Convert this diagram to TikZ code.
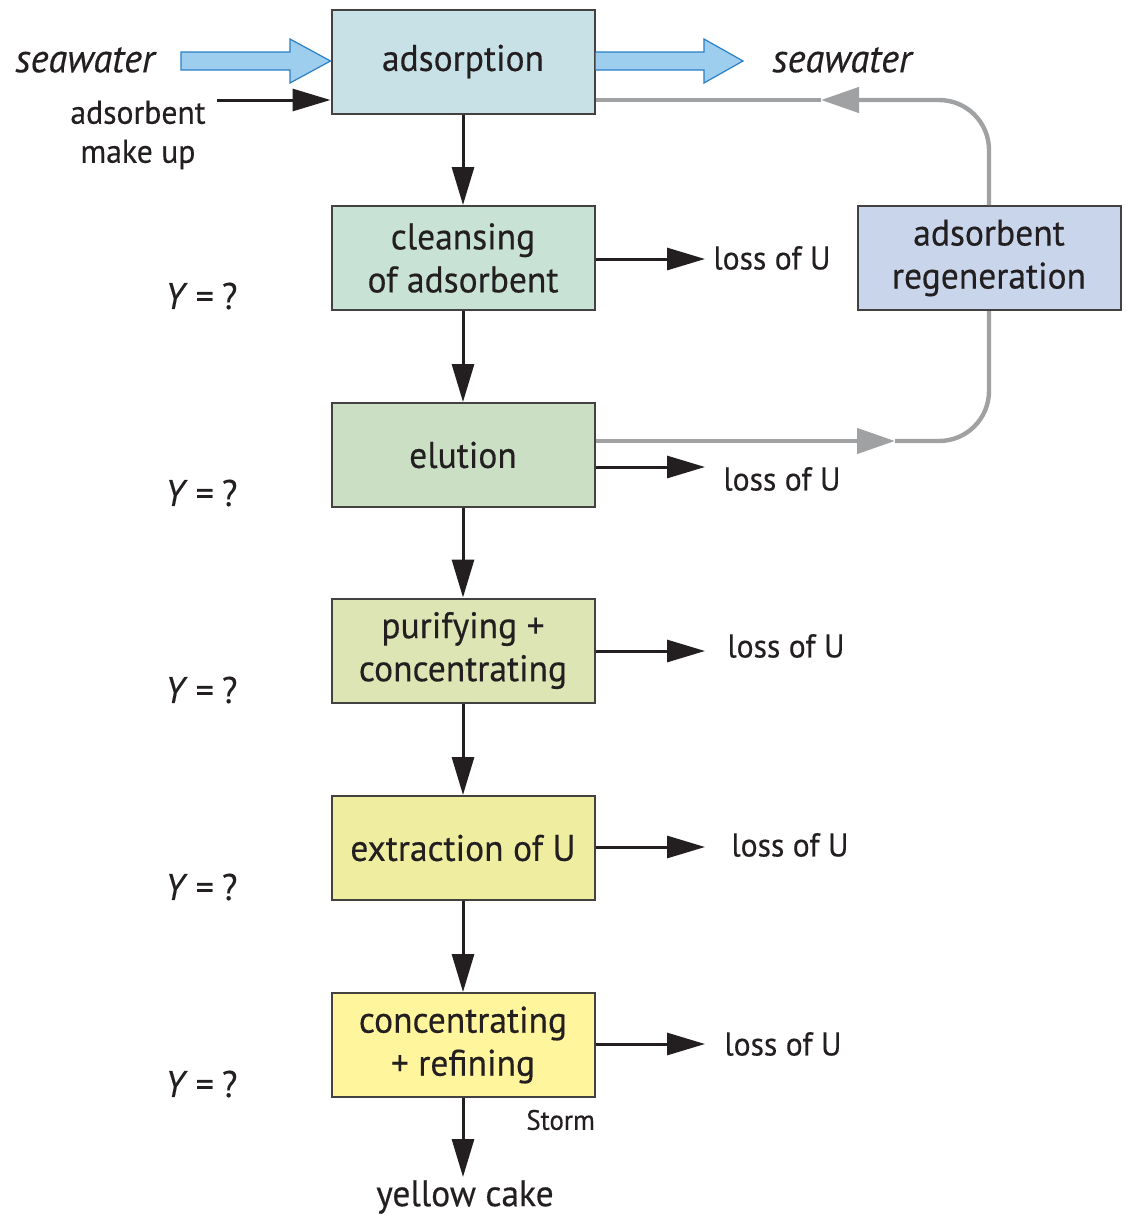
\documentclass[tikz,border=0pt]{standalone}
\usepackage{fontspec}
\setmainfont{PT Sans}[FakeStretch=0.96, FakeBold=0.35]
\usetikzlibrary{arrows.meta,calc}
\definecolor{ink}{HTML}{231F20}
\definecolor{cads}{HTML}{C8E1E6}
\definecolor{ccle}{HTML}{C9E2D6}
\definecolor{celu}{HTML}{CADFC4}
\definecolor{cpur}{HTML}{DCE5B3}
\definecolor{cext}{HTML}{EEEDA0}
\definecolor{ccon}{HTML}{FFF59D}
\definecolor{creg}{HTML}{C9D5EA}
\definecolor{wfill}{HTML}{9ECEEE}
\definecolor{wline}{HTML}{2A7FC5}
\definecolor{loop}{HTML}{A0A1A3}
\tikzset{
  procbox/.style={draw=ink!85, line width=1pt, minimum width=131.5pt, minimum height=52pt,
    align=center, font=\fontsize{18.5}{21.5}\selectfont, text=ink, inner sep=0pt},
  flow/.style={draw=ink, line width=1.5pt, -{Triangle[length=19pt,width=11pt]}},
  loopline/.style={draw=loop, line width=2.2pt, rounded corners=25pt},
  looptip/.style={-{Triangle[length=19pt,width=12.5pt]}},
  losslbl/.style={anchor=west, inner sep=0pt, font=\fontsize{16.5}{19}\selectfont, text=ink},
  ylbl/.style={anchor=west, inner sep=0pt, font=\fontsize{18.5}{20}\selectfont, text=ink},
  sealbl/.style={anchor=west, inner sep=0pt, font=\fontsize{20}{22}\selectfont\itshape, text=ink},
  blockarrow/.style={fill=wfill, draw=wline, line width=0.6pt, line join=miter},
}
\begin{document}
\begin{tikzpicture}[x=0.5pt,y=-0.5pt]
\useasboundingbox (0,0) rectangle (1126,1215);

% process boxes
\node[procbox, fill=cads] (ads) at (463,61.5) {adsorption};
\node[procbox, fill=ccle] (cle) at (463,258) {cleansing\\of adsorbent};
\node[procbox, fill=celu] (elu) at (463,455) {elution};
\node[procbox, fill=cpur] (pur) at (463,650.5) {purifying +\\concentrating};
\node[procbox, fill=cext] (ext) at (463,848) {extraction of U};
\node[procbox, fill=ccon] (con) at (463,1045) {concentrating\\+ refining};
\node[procbox, fill=creg] (reg) at (989,258) {adsorbent\\regeneration};

% main flow
\draw[flow] (ads) -- (cle);
\draw[flow] (cle) -- (elu);
\draw[flow] (elu) -- (pur);
\draw[flow] (pur) -- (ext);
\draw[flow] (ext) -- (con);
\node[inner sep=0pt, font=\fontsize{18.5}{21}\selectfont, text=ink] (cake) at (465,1197) {yellow cake};
\coordinate (cakein) at (463,1177);
\draw[flow] (con.south) -- (cakein);
\node[anchor=west, inner sep=0pt, font=\fontsize{14}{16}\selectfont, text=ink] (storm) at (526,1120) {Storm};

% seawater block arrows
\node[sealbl] (seaL) at (15,60) {seawater};
\node[sealbl] (seaR) at (772,60) {seawater};
\draw[blockarrow] (181,52) -- (290,52) -- (290,39) -- (ads.west |- 0,61) -- (290,83) -- (290,70) -- (181,70) -- cycle;
\draw[blockarrow] (ads.east |- 0,52) -- (704,52) -- (704,39) -- (743,61) -- (704,83) -- (704,70) -- (ads.east |- 0,70);

% adsorbent make up
\node[align=center, inner sep=0pt, font=\fontsize{16.5}{19.5}\selectfont, text=ink] (makeup) at (138,135) {adsorbent\\make up};
\coordinate (mkstart) at (217,100);
\draw[flow] (mkstart) -- (ads.west |- mkstart);

% losses
\coordinate (l1) at (705,259);
\coordinate (l2) at (705,467);
\coordinate (l3) at (705,651);
\coordinate (l4) at (705,847);
\coordinate (l5) at (705,1044);
\draw[flow] (cle.east |- l1) -- (l1);
\draw[flow] (elu.east |- l2) -- (l2);
\draw[flow] (pur.east |- l3) -- (l3);
\draw[flow] (ext.east |- l4) -- (l4);
\draw[flow] (con.east |- l5) -- (l5);
\node[losslbl] (t1) at (713,258) {loss of U};
\node[losslbl] (t2) at (723,479) {loss of U};
\node[losslbl] (t3) at (727,646) {loss of U};
\node[losslbl] (t4) at (731,845) {loss of U};
\node[losslbl] (t5) at (724,1044) {loss of U};

% yields
\node[ylbl] (y1) at (165,296) {\textit{Y}\:=\:?};
\node[ylbl] (y2) at (165,493) {\textit{Y}\:=\:?};
\node[ylbl] (y3) at (165,690) {\textit{Y}\:=\:?};
\node[ylbl] (y4) at (165,887) {\textit{Y}\:=\:?};
\node[ylbl] (y5) at (165,1084) {\textit{Y}\:=\:?};

% regeneration loop
\coordinate (gIn) at (895,441);
\coordinate (gOut) at (821,100);
\draw[loopline, looptip] (elu.east |- gIn) -- (gIn);
\draw[loopline] (gIn) -- (989,441) -- (reg.south);
\draw[loopline, looptip] (reg.north) -- (989,100) -- (gOut);
\draw[loopline] (gOut) -- (ads.east |- gOut);
\end{tikzpicture}
\end{document}
